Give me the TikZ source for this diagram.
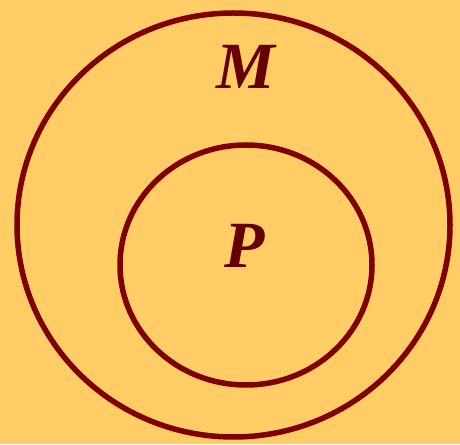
\documentclass[tikz,border=0pt]{standalone}
\usepackage{fontspec}
\setmainfont{Liberation Serif}
\usetikzlibrary{positioning}
\definecolor{bgorange}{HTML}{FFCC66}
\definecolor{setred}{HTML}{7F0000}
\definecolor{labelred}{HTML}{660000}

\begin{document}
\begin{tikzpicture}[
    x=1pt, y=1pt,
    setline/.style={draw=setred, line width=5.5pt},
    setlabel/.style={text=labelred, font=\fontsize{66}{66}\selectfont\bfseries\itshape, anchor=base, inner sep=0pt}
]
\fill[bgorange] (0,0) rectangle (460,444);
\useasboundingbox (0,0) rectangle (460,444);
% outer set M
\draw[setline] (233.5,219) ellipse [x radius=216.5, y radius=212];
% inner set P
\draw[setline] (246,179) ellipse [x radius=126, y radius=120];
\node[setlabel] (labM) at (246,355) {M};
\node[setlabel] (labP) at (245,176) {P};
\end{tikzpicture}
\end{document}
